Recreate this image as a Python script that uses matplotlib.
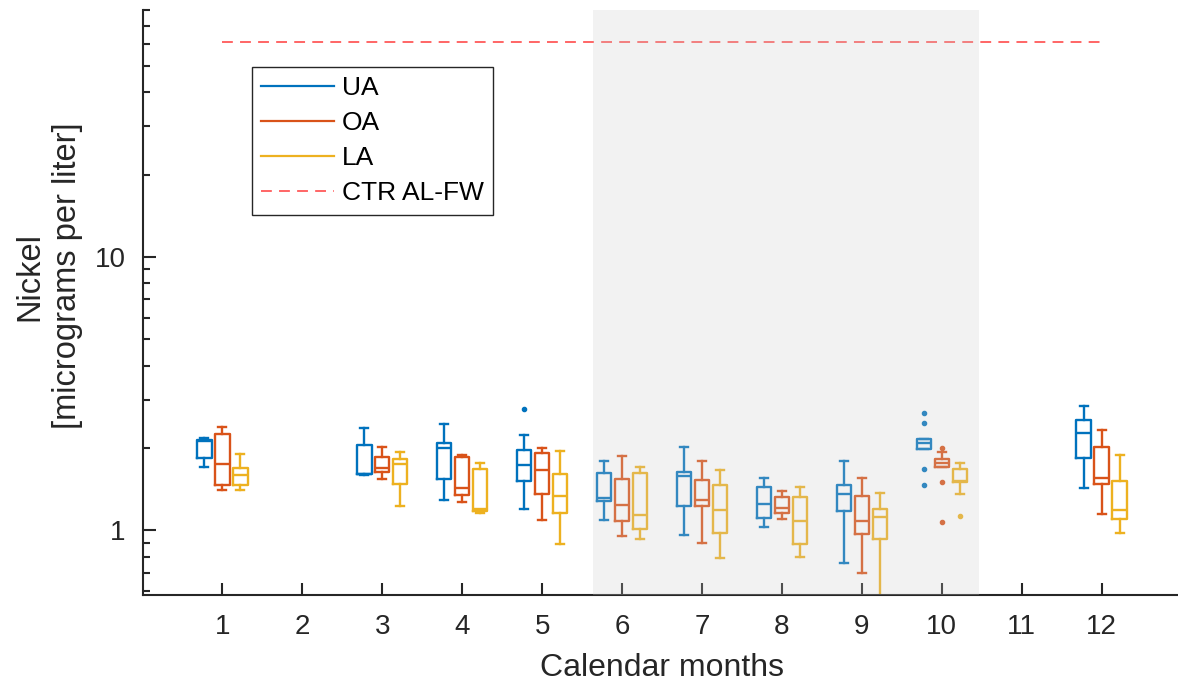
import matplotlib
matplotlib.use("Agg")
import matplotlib.pyplot as plt
from matplotlib.lines import Line2D
from matplotlib.ticker import NullFormatter, LogLocator
import numpy as np

plt.rcParams['font.family'] = ['Liberation Sans', 'DejaVu Sans']

months = [1, 3, 4, 5, 6, 7, 8, 9, 10, 12]
groups = ['UA', 'OA', 'LA']
colors = ['#0072BD', '#D95319', '#EDB120']

# per month: (whislo, q1, med, q3, whishi)
ua_stats = [
    (1.71, 1.84, 2.12, 2.14, 2.18),
    (1.59, 1.60, 1.61, 2.05, 2.36),
    (1.29, 1.54, 2.00, 2.09, 2.44),
    (1.20, 1.52, 1.73, 1.96, 2.24),
    (1.09, 1.285, 1.31, 1.62, 1.80),
    (0.96, 1.23, 1.58, 1.64, 2.01),
    (1.03, 1.106, 1.25, 1.44, 1.55),
    (0.76, 1.18, 1.36, 1.47, 1.80),
    (1.98, 1.98, 2.09, 2.15, 2.15),
    (1.43, 1.84, 2.26, 2.53, 2.86),
]
oa_stats = [
    (1.40, 1.47, 1.75, 2.25, 2.38),
    (1.54, 1.63, 1.69, 1.85, 2.02),
    (1.27, 1.35, 1.43, 1.85, 1.89),
    (1.09, 1.36, 1.66, 1.91, 2.00),
    (0.95, 1.08, 1.24, 1.54, 1.87),
    (0.90, 1.23, 1.29, 1.53, 1.80),
    (1.10, 1.157, 1.21, 1.32, 1.39),
    (0.70, 0.967, 1.08, 1.34, 1.55),
    (1.71, 1.71, 1.77, 1.82, 1.93),
    (1.15, 1.48, 1.56, 2.02, 2.33),
]
la_stats = [
    (1.41, 1.46, 1.595, 1.69, 1.90),
    (1.23, 1.48, 1.745, 1.82, 1.94),
    (1.16, 1.18, 1.197, 1.68, 1.77),
    (0.89, 1.157, 1.34, 1.60, 1.95),
    (0.93, 1.01, 1.14, 1.62, 1.70),
    (0.79, 0.98, 1.19, 1.47, 1.66),
    (0.80, 0.89, 1.085, 1.32, 1.44),
    (0.55, 0.93, 1.12, 1.197, 1.37),
    (1.36, 1.50, 1.51, 1.68, 1.77),
    (0.98, 1.10, 1.19, 1.52, 1.89),
]
# outliers (month -> values)
ua_fliers = {5: [2.77], 10: [2.68, 2.46, 1.68, 1.47]}
oa_fliers = {10: [2.00, 1.50, 1.07]}
la_fliers = {10: [1.13]}

ctr_value = 61.0
ctr_months = [1, 12]
shade_range = (5.64, 10.47)

fig = plt.figure(figsize=(11.78, 6.82), dpi=100)
ax = fig.add_axes([0.1210, 0.1276, 0.882, 0.8577])

offsets = [-0.225, 0.0, 0.225]
all_stats = [ua_stats, oa_stats, la_stats]
all_fliers = [ua_fliers, oa_fliers, la_fliers]
for gi, (stats, fliers, c) in enumerate(zip(all_stats, all_fliers, colors)):
    bxstats = []
    for m, (lo, q1, med, q3, hi) in zip(months, stats):
        bxstats.append(dict(whislo=lo, q1=q1, med=med, q3=q3, whishi=hi,
                            fliers=fliers.get(m, [])))
    pos = [m + offsets[gi] for m in months]
    lw = 1.7
    ax.bxp(bxstats, positions=pos, widths=0.18, showfliers=True,
           manage_ticks=False,
           boxprops=dict(color=c, linewidth=lw),
           medianprops=dict(color=c, linewidth=lw),
           whiskerprops=dict(color=c, linewidth=lw),
           capprops=dict(color=c, linewidth=lw),
           capwidths=0.1,
           flierprops=dict(marker='o', markersize=3, markerfacecolor=c,
                           markeredgecolor=c))

ax.plot(ctr_months, [ctr_value, ctr_value], color='red', alpha=0.65,
        linestyle=(0, (6, 4)), linewidth=1.3)

ax.axvspan(shade_range[0], shade_range[1], color=(0.8, 0.8, 0.8), alpha=0.25,
           lw=0, zorder=5)

ax.set_yscale('log')
ax.set_ylim(0.58, 80)
ax.set_xlim(0, 13)
ax.set_yticks([1, 10])
ax.set_yticklabels(['1', '10'])
ax.yaxis.set_minor_locator(LogLocator(base=10, subs=np.arange(2, 10)))
ax.yaxis.set_minor_formatter(NullFormatter())
ax.set_xticks(range(1, 13))
ax.set_xticklabels([str(i) for i in range(1, 13)])

for s in ['top', 'right']:
    ax.spines[s].set_visible(False)
for s in ['left', 'bottom']:
    ax.spines[s].set_linewidth(1.5)
    ax.spines[s].set_color('#262626')
ax.tick_params(axis='both', which='both', direction='in', colors='#262626',
               labelsize=20, width=1.5)
ax.tick_params(axis='both', which='major', length=9)
ax.tick_params(axis='y', which='minor', length=5)
ax.tick_params(axis='x', pad=14)
ax.tick_params(axis='y', pad=12)

ax.set_xlabel('Calendar months', fontsize=23, color='#262626', labelpad=9)
ax.set_ylabel('Nickel\n[micrograms per liter]', fontsize=23.5, color='#262626',
              linespacing=1.3)
ax.yaxis.set_label_coords(-0.057, 0.545)

handles = [Line2D([], [], color=c, linewidth=1.6) for c in colors]
handles.append(Line2D([], [], color='red', alpha=0.65, linestyle=(0, (6, 4)),
                      linewidth=1.3))
leg = ax.legend(handles, groups + ['CTR AL-FW'], loc='upper left',
                bbox_to_anchor=(0.1054, 0.9026), borderaxespad=0, fontsize=19,
                frameon=True, fancybox=False, edgecolor='#262626', framealpha=1,
                handlelength=2.75, handletextpad=0.3, borderpad=0.35,
                labelspacing=0.42)
leg.get_frame().set_linewidth(1.0)

fig.savefig('out.png', dpi=100)
